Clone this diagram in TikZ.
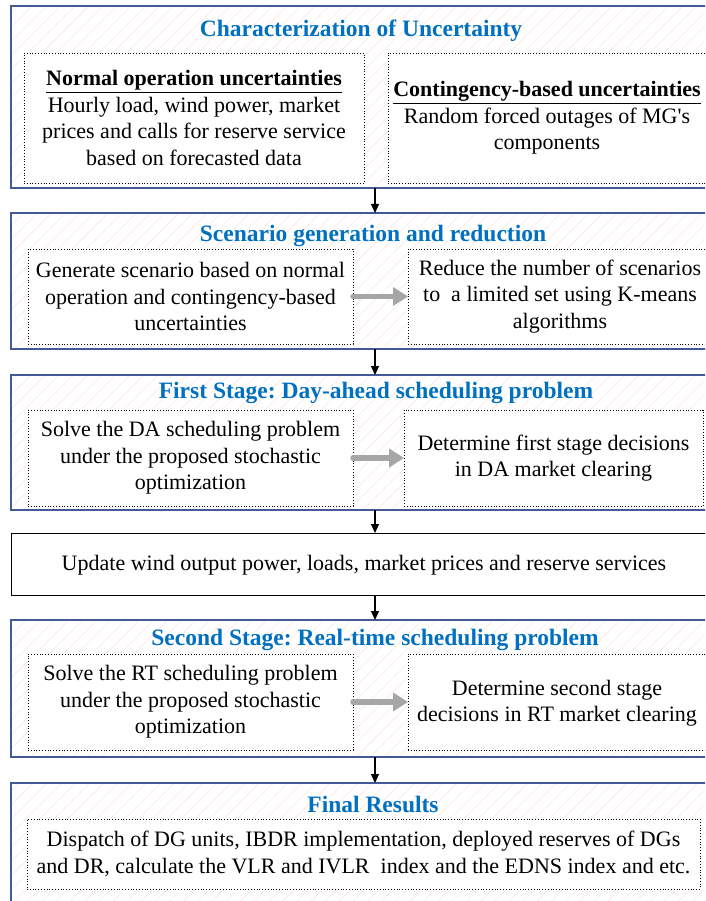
\documentclass[tikz,border=0pt]{standalone}
\usepackage{fontspec}
\setmainfont{Liberation Serif}
\usetikzlibrary{arrows.meta,patterns.meta,calc}
\definecolor{ttl}{RGB}{0,112,192}
\definecolor{frame}{RGB}{68,90,150}
\definecolor{hatch}{RGB}{252,232,226}
\definecolor{garr}{RGB}{166,166,166}
\frenchspacing
\begin{document}
\begin{tikzpicture}[x=1pt,y=-1pt,
  outer/.style={draw=frame,line width=1.3pt,rectangle,anchor=north west,inner sep=0pt,outer sep=0pt,
    preaction={fill=white},pattern={Lines[angle=45,distance=10pt,line width=0.6pt]},pattern color=hatch},
  plainbox/.style={draw=black,line width=0.8pt,fill=white,rectangle,anchor=north west,inner sep=0pt,outer sep=0pt},
  ibox/.style={draw=black,dotted,line width=0.8pt,fill=white,rectangle,anchor=north west,inner sep=0pt,outer sep=0pt},
  body/.style={font=\fontsize{22}{26.5}\selectfont,align=center,inner sep=0pt},
  title/.style={font=\bfseries\fontsize{23.5}{26}\selectfont,text=ttl,inner sep=0pt,anchor=base},
  flow/.style={-{Triangle[length=9pt,width=8pt]},line width=1.2pt,black},
  garrow/.style={-{Triangle[length=15pt,width=18pt]},line width=5.5pt,garr,line cap=round},
]
\useasboundingbox (0,0) rectangle (705,901);
\clip (0,0) rectangle (705,901);
\coordinate (axis) at (375,0);

% outer frames
\node[outer,minimum width=710pt,minimum height=182pt] (o1) at (11,6) {};
\node[outer,minimum width=710pt,minimum height=136pt] (o2) at (11,213) {};
\node[outer,minimum width=710pt,minimum height=135pt] (o3) at (11,375) {};
\node[plainbox,minimum width=710pt,minimum height=62pt] (o4) at (11,533) {};
\node[outer,minimum width=710pt,minimum height=137pt] (o5) at (11,620) {};
\node[outer,minimum width=710pt,minimum height=130pt] (o6) at (11,783) {};

% titles
\node[title] (t1) at (361,37) {Characterization of Uncertainty};
\node[title] (t2) at (373,241) {Scenario generation and reduction};
\node[title] (t3) at (376,398) {First Stage: Day-ahead scheduling problem};
\node[title] (t5) at (375,645) {Second Stage: Real-time scheduling problem};
\node[title] (t6) at (373,812) {Final Results};

% inner boxes
\node[ibox,minimum width=340pt,minimum height=130pt] (b1a) at (24,53) {};
\node[body] (x1a) at (b1a.center) {\textbf{\underline{Normal operation uncertainties}}\\Hourly load, wind power, market\\prices and calls for reserve service\\based on forecasted data};
\node[ibox,minimum width=330pt,minimum height=130pt] (b1b) at (388,53) {};
\node[body] (x1b) at (547,118) {\textbf{\underline{Contingency-based uncertainties}}\\Random forced outages of MG\textquotesingle s\\components};

\node[ibox,minimum width=325pt,minimum height=95pt] (b2a) at (28,249) {};
\node[body] (x2a) at (b2a.center) {Generate scenario based on normal\\operation and contingency-based\\uncertainties};
\node[ibox,minimum width=304pt,minimum height=95pt] (b2b) at (408,249) {};
\node[body] (x2b) at (b2b.center) {Reduce the number of scenarios\\to\ \ a limited set using K-means\\algorithms};

\node[ibox,minimum width=325pt,minimum height=96pt] (b3a) at (28,410) {};
\node[body] (x3a) at (b3a.center) {Solve the DA scheduling problem\\under the proposed stochastic\\optimization};
\node[ibox,minimum width=299pt,minimum height=96pt] (b3b) at (404,410) {};
\node[body] (x3b) at (b3b.center) {Determine first stage decisions\\in DA market clearing};

\node[body] (x4) at (364,565) {Update wind output power, loads, market prices and reserve services};

\node[ibox,minimum width=325pt,minimum height=96pt] (b5a) at (28,654) {};
\node[body] (x5a) at (b5a.center) {Solve the RT scheduling problem\\under the proposed stochastic\\optimization};
\node[ibox,minimum width=298pt,minimum height=96pt] (b5b) at (408,654) {};
\node[body] (x5b) at (557,703) {Determine second stage\\decisions in RT market clearing};

\node[ibox,minimum width=673pt,minimum height=70pt] (b6) at (27,819) {};
\node[body] (x6) at (b6.center) {Dispatch of DG units, IBDR implementation, deployed reserves of DGs\\and DR, calculate the VLR and IVLR\ \ index and the EDNS index and etc.};

% grey arrows
\draw[garrow] (b2a.east) -- (b2b.west);
\draw[garrow] (b3a.east) -- (b3b.west);
\draw[garrow] (b5a.east) -- (b5b.west);

% flow arrows
\draw[flow] (o1.south -| axis) -- (o2.north -| axis);
\draw[flow] (o2.south -| axis) -- (o3.north -| axis);
\draw[flow] (o3.south -| axis) -- (o4.north -| axis);
\draw[flow] (o4.south -| axis) -- (o5.north -| axis);
\draw[flow] (o5.south -| axis) -- (o6.north -| axis);
\end{tikzpicture}
\end{document}
